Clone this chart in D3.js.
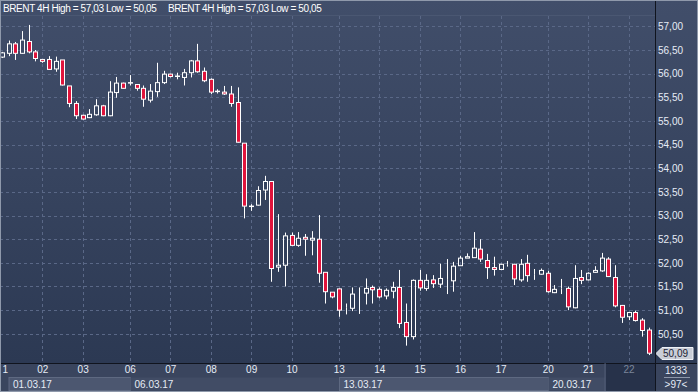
<!DOCTYPE html>
<html>
<head>
<meta charset="utf-8">
<script src="https://cdn.jsdelivr.net/npm/d3@7"></script>
<style>
  body { margin: 0; background: #2d3a55; }
  text { font-family: "Liberation Sans", Arial, sans-serif; }
</style>
</head>
<body>
<div id="chart"></div>
<script>
// BRENT 4H candles (97 bars)
let opens = [56.35,56.43,56.63,56.43,56.68,56.46,56.30,56.30,56.10,56.29,
    55.74,55.37,55.12,55.07,55.13,55.32,55.11,55.60,55.80,55.80,
    55.77,55.69,55.44,55.62,55.81,55.99,55.94,55.92,56.02,56.27,
    56.05,55.88,55.62,55.61,55.57,55.39,54.53,53.19,53.22,53.54,
    53.72,51.91,51.95,52.58,52.37,52.54,52.48,52.50,51.80,51.38,
    51.45,51.05,51.04,51.32,51.36,51.48,51.44,51.30,51.40,51.48,
    50.74,50.44,51.63,51.46,51.64,51.55,51.64,51.62,51.94,52.10,
    52.11,52.29,52.05,51.90,51.86,51.96,51.97,51.64,51.99,51.76,
    51.76,51.78,51.37,51.46,51.46,51.05,51.69,51.64,51.80,51.83,
    52.08,51.69,51.10,50.86,50.95,50.79,50.58]
let highs = [56.46,56.70,56.67,56.90,57.03,56.50,56.31,56.37,56.36,56.29,
    55.74,55.42,55.13,55.25,55.46,55.34,55.84,55.93,55.81,55.97,
    55.78,55.75,55.78,56.23,56.06,56.00,56.02,56.10,56.29,56.63,
    56.13,55.90,55.67,55.74,55.74,55.71,54.53,53.24,53.62,53.84,
    53.73,53.03,52.64,52.64,52.65,52.61,52.67,53.01,51.80,51.38,
    51.46,51.14,51.48,51.48,51.67,51.52,51.48,51.46,51.60,51.85,
    51.14,51.65,51.85,51.76,51.74,51.98,52.08,52.02,52.15,52.20,
    52.65,52.50,52.19,52.13,51.98,52.04,51.98,52.08,52.17,51.87,
    51.88,51.83,51.53,51.66,51.50,51.95,51.85,51.80,51.93,52.21,
    52.12,51.95,51.11,50.95,50.99,50.83,50.63]
let lows = [56.33,56.37,56.29,56.42,56.43,56.26,56.23,56.08,56.04,55.75,
    55.29,55.04,55.03,55.06,55.11,55.10,55.10,55.49,55.68,55.75,
    55.64,55.30,55.39,55.51,55.78,55.92,55.88,55.75,55.92,56.02,
    55.82,55.57,55.58,55.55,55.30,54.54,52.94,53.10,53.21,53.33,
    51.60,51.81,51.50,52.36,52.34,52.15,52.16,51.58,51.14,51.25,
    50.86,50.91,50.98,50.92,51.12,51.14,51.25,51.23,51.25,50.62,
    50.25,50.38,51.41,51.41,51.47,51.47,51.34,51.39,51.94,52.10,
    52.11,52.02,51.66,51.73,51.85,51.92,51.53,51.60,51.60,51.64,
    51.75,51.37,51.36,51.34,51.00,51.04,51.55,51.63,51.79,51.81,
    51.70,51.06,50.73,50.79,50.76,50.44,50.05]
let closes = [56.44,56.63,56.43,56.71,56.46,56.32,56.26,56.09,56.26,55.76,
    55.37,55.11,55.04,55.14,55.32,55.11,55.61,55.80,55.69,55.81,
    55.69,55.46,55.63,55.81,55.99,55.94,55.95,56.02,56.27,56.04,
    55.85,55.61,55.63,55.57,55.37,54.55,53.20,53.20,53.53,53.72,
    51.88,51.95,52.57,52.37,52.52,52.50,52.52,51.78,51.39,51.28,
    51.00,51.05,51.34,51.32,51.46,51.43,51.28,51.42,51.48,50.72,
    50.44,51.63,51.47,51.63,51.56,51.67,51.64,51.93,52.10,52.13,
    52.31,52.08,51.90,51.86,51.97,51.96,51.66,51.97,51.73,51.76,
    51.84,51.39,51.44,51.46,51.07,51.67,51.63,51.78,51.84,52.10,
    51.71,51.09,50.85,50.95,50.78,50.57,50.09]

let dayLabels = ["1","02","03","06","07","08","09","10","13","14","15","16","17","20","21","22"]
let dayStarts = [0,6,12,19,25,31,37,43,50,56,62,68,74,81,87,93]
let weekLabels = ["01.03.17","06.03.17","13.03.17","20.03.17"]
let weekStarts = [0,19,50,81]
let priceTicks = [50.5,51,51.5,52,52.5,53,53.5,54,54.5,55,55.5,56,56.5,57]

function drawChart(){
    let width = 698
    let height = 392
    let plotRight = 655
    let plotBottom = 363

    let svg = d3.select("#chart")
        .append("svg")
            .attr("width", width)
            .attr("height", height)
            .style("display", "block")

    let defs = svg.append("defs")
    let grad = defs.append("linearGradient")
        .attr("id", "bg")
        .attr("x1", 0).attr("y1", 0).attr("x2", 0).attr("y2", 1)
    grad.append("stop").attr("offset", "0%").attr("stop-color", "#414e6a")
    grad.append("stop").attr("offset", "100%").attr("stop-color", "#2c3953")
    defs.append("clipPath").attr("id", "plotClip")
        .append("rect")
            .attr("x", 0).attr("y", 0)
            .attr("width", plotRight).attr("height", plotBottom)

    svg.append("rect")
        .attr("width", width).attr("height", plotBottom)
        .attr("fill", "url(#bg)")
    // bottom band with day numbers and week dates
    svg.append("rect")
        .attr("y", plotBottom).attr("width", width).attr("height", height - plotBottom)
        .attr("fill", "#3a455e")

    let data = opens.map(function(o, i){
        return {i: i, open: o, high: highs[i], low: lows[i], close: closes[i]}
    })

    let x = d3.scaleLinear()
        .domain([0, data.length - 1])
        .range([1.8, 648.8])
    let y = d3.scaleLinear()
        .domain([50, 57])
        .range([357.45, 26.35])
    let fmt = v => d3.format(".2f")(v).replace(".", ",")
    let px = i => Math.round(x(i)) + 0.5

    // grid
    svg.selectAll(".hGrid")
        .data(priceTicks)
        .enter()
        .append("line")
            .attr("class", "hGrid")
            .attr("x1", 0).attr("x2", plotRight)
            .attr("y1", d => Math.round(y(d)) + 0.5)
            .attr("y2", d => Math.round(y(d)) + 0.5)
            .attr("stroke", "#5a6887")
            .attr("stroke-dasharray", "3,3")
    svg.selectAll(".vGrid")
        .data(dayStarts.slice(1))
        .enter()
        .append("line")
            .attr("class", "vGrid")
            .attr("x1", d => px(d)).attr("x2", d => px(d))
            .attr("y1", 16).attr("y2", plotBottom)
            .attr("stroke", "#5a6887")
            .attr("stroke-dasharray", "3,3")

    // candles
    let plot = svg.append("g").attr("clip-path", "url(#plotClip)")
    let candles = plot.selectAll(".candle")
        .data(data)
        .enter()
        .append("g")
            .attr("class", "candle")
    candles.append("line")
        .attr("x1", d => px(d.i)).attr("x2", d => px(d.i))
        .attr("y1", d => y(d.high))
        .attr("y2", d => y(Math.max(d.open, d.close)))
        .attr("stroke", "#ffffff")
    candles.append("line")
        .attr("x1", d => px(d.i)).attr("x2", d => px(d.i))
        .attr("y1", d => y(Math.min(d.open, d.close)))
        .attr("y2", d => y(d.low))
        .attr("stroke", "#ffffff")
    candles.append("rect")
        .attr("x", d => px(d.i) - 2)
        .attr("width", 4)
        .attr("y", d => y(Math.max(d.open, d.close)))
        .attr("height", d => Math.abs(y(d.open) - y(d.close)))
        .attr("fill", d => d.close < d.open ? "#e0143c" : "none")
        .attr("stroke", "#ffffff")
        .attr("stroke-width", 1)

    // header
    let title = "BRENT 4H High = " + fmt(d3.max(highs)) + " Low = " + fmt(d3.min(lows))
    svg.selectAll(".title")
        .data([3, 168])
        .enter()
        .append("text")
            .attr("class", "title")
            .attr("x", d => d)
            .attr("y", 12)
            .attr("fill", "#ffffff")
            .attr("font-size", "10px")
            .attr("letter-spacing", "-0.4px")
            .text(title)

    // price axis
    let yAxis = svg.append("g")
        .attr("transform", "translate(" + plotRight + ",0)")
        .call(d3.axisRight(y).tickValues(priceTicks).tickSize(0).tickPadding(3).tickFormat(fmt))
    yAxis.select(".domain").remove()
    yAxis.selectAll("text")
        .attr("fill", "#e6ecf6")
        .attr("font-size", "10px")
        .attr("font-family", "Liberation Sans, Arial, sans-serif")

    // last price marker
    let last = closes[closes.length - 1]
    let ly = Math.round(y(last)) + 0.5
    svg.append("path")
        .attr("d", "M656," + ly + " L662," + (ly - 6) + " L693," + (ly - 6) + " L693," + (ly + 6) + " L662," + (ly + 6) + " Z")
        .attr("fill", "#c9cdd6")
        .attr("stroke", "#eef1f6")
    svg.append("text")
        .attr("x", 663).attr("y", ly + 3.5)
        .attr("fill", "#1c2233")
        .attr("font-size", "10px")
        .text(fmt(last))

    // week date boxes
    let weekEnd = x(93) - 23
    svg.selectAll(".weekBox")
        .data(weekStarts)
        .enter()
        .append("rect")
            .attr("class", "weekBox")
            .attr("x", d => Math.max(px(d), 9))
            .attr("y", 377.5)
            .attr("width", function(d, i){
                let end = i < weekStarts.length - 1 ? px(weekStarts[i + 1]) : weekEnd
                return end - Math.max(px(d), 9)
            })
            .attr("height", 13)
            .attr("fill", (d, i) => i % 2 == 0 ? "#4c5770" : "#414c65")
            .attr("stroke", (d, i) => i % 2 == 0 ? "#5e6981" : "none")
    svg.selectAll(".weekLabel")
        .data(weekStarts)
        .enter()
        .append("text")
            .attr("class", "weekLabel")
            .attr("x", d => Math.max(px(d), 9) + 4)
            .attr("y", 387.5)
            .attr("fill", "#e6ecf6")
            .attr("font-size", "10px")
            .text((d, i) => weekLabels[i])

    // current day cell
    svg.append("rect")
        .attr("x", weekEnd).attr("y", plotBottom)
        .attr("width", plotRight - weekEnd).attr("height", height - plotBottom)
        .attr("fill", "#27324a")

    // day axis
    let xAxis = svg.append("g")
        .attr("transform", "translate(0," + plotBottom + ")")
        .call(d3.axisBottom(x).tickValues(dayStarts).tickSize(0).tickPadding(3)
            .tickFormat((d, i) => dayLabels[i]))
    xAxis.select(".domain").remove()
    xAxis.selectAll("text")
        .attr("fill", (d, i) => i == dayLabels.length - 1 ? "#7b869a" : "#e6ecf6")
        .attr("font-size", "10px")
        .attr("font-family", "Liberation Sans, Arial, sans-serif")
        .attr("x", (d, i) => i == 0 ? 3 : 0)

    // bar count cell
    svg.append("text")
        .attr("x", 676).attr("y", 374)
        .attr("text-anchor", "middle")
        .attr("fill", "#e6ecf6")
        .attr("font-size", "10px")
        .text("1333")
    svg.append("line")
        .attr("x1", 664).attr("x2", 690)
        .attr("y1", 377.5).attr("y2", 377.5)
        .attr("stroke", "#8d97aa")
    svg.append("text")
        .attr("x", 676).attr("y", 387.5)
        .attr("text-anchor", "middle")
        .attr("fill", "#e6ecf6")
        .attr("font-size", "10px")
        .text(">" + data.length + "<")

    // separators and frame
    svg.append("line")
        .attr("x1", plotRight + 0.5).attr("x2", plotRight + 0.5)
        .attr("y1", 0).attr("y2", height)
        .attr("stroke", "#10141e")
    svg.append("line")
        .attr("x1", 0).attr("x2", width)
        .attr("y1", plotBottom + 0.5).attr("y2", plotBottom + 0.5)
        .attr("stroke", "#10141e")
    svg.append("line")
        .attr("x1", weekEnd - 0.5).attr("x2", weekEnd - 0.5)
        .attr("y1", plotBottom).attr("y2", height)
        .attr("stroke", "#56617a")
    svg.append("line")
        .attr("x1", 0).attr("x2", plotRight)
        .attr("y1", 15.5).attr("y2", 15.5)
        .attr("stroke", "#4a5772")
    svg.append("rect")
        .attr("x", 0.5).attr("y", 0.5)
        .attr("width", width - 1).attr("height", height - 1)
        .attr("fill", "none")
        .attr("stroke", "#8f99ab")
}
drawChart()
</script>
</body>
</html>
